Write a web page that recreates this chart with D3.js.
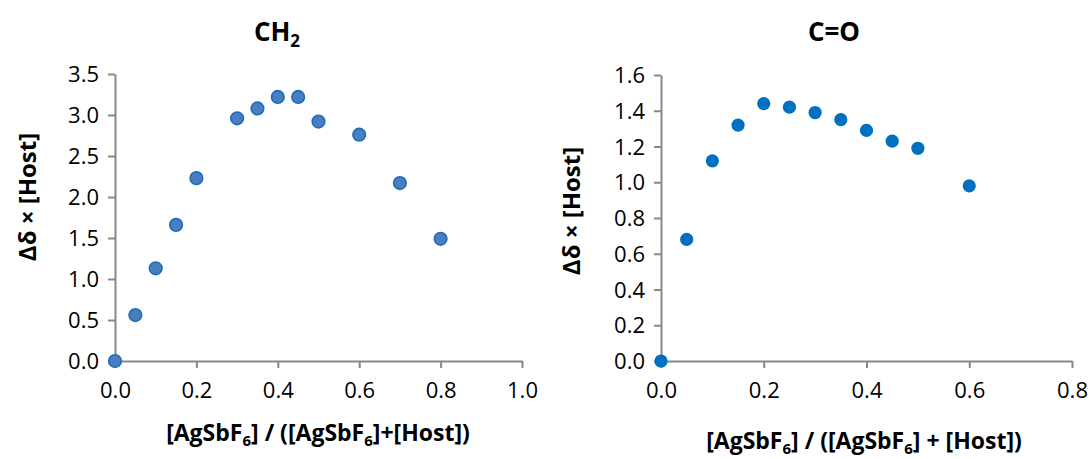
<!DOCTYPE html>
<html>
<head>
<meta charset="utf-8">
<script src="https://cdn.jsdelivr.net/npm/d3@7"></script>
<style>
  html, body { margin: 0; padding: 0; background: #fff; }
  svg { display: block; }
  text { font-family: "Open Sans", Lato, sans-serif; fill: #000; }
</style>
</head>
<body>
<svg id="chart" width="1091" height="459"></svg>
<script>
// Mole fraction of AgSbF6 and the shift product for the CH2 signal
const ch2Fraction = [0, 0.05, 0.1, 0.15, 0.2, 0.3, 0.35, 0.4, 0.45, 0.5, 0.6, 0.7, 0.8];
const ch2Shift    = [0, 0.56, 1.13, 1.66, 2.23, 2.96, 3.08, 3.22, 3.22, 2.92, 2.76, 2.17, 1.49];

// Same for the C=O signal
const coFraction = [0, 0.05, 0.1, 0.15, 0.2, 0.25, 0.3, 0.35, 0.4, 0.45, 0.5, 0.6];
const coShift    = [0, 0.68, 1.12, 1.32, 1.44, 1.42, 1.39, 1.35, 1.29, 1.23, 1.19, 0.98];

const ch2XTicks = [0, 0.2, 0.4, 0.6, 0.8, 1.0];
const ch2YTicks = [0, 0.5, 1.0, 1.5, 2.0, 2.5, 3.0, 3.5];
const coXTicks  = [0, 0.2, 0.4, 0.6, 0.8];
const coYTicks  = [0, 0.2, 0.4, 0.6, 0.8, 1.0, 1.2, 1.4, 1.6];

const svg = d3.select("#chart");
const axisColor = "#888888";

function panel(opt) {
  const x = d3.scaleLinear().domain(opt.xDomain).range([opt.left, opt.right]);
  const y = d3.scaleLinear().domain(opt.yDomain).range([opt.bottom, opt.top]);
  const g = svg.append("g");

  const xAxis = g.append("g")
    .attr("transform", `translate(0,${opt.bottom})`)
    .call(d3.axisBottom(x).tickValues(opt.xTicks).tickSize(7).tickSizeOuter(0)
      .tickFormat(d3.format(".1f")));
  const yAxis = g.append("g")
    .attr("transform", `translate(${opt.left},0)`)
    .call(d3.axisLeft(y).tickValues(opt.yTicks).tickSize(7).tickSizeOuter(0)
      .tickFormat(d3.format(".1f")));

  [xAxis, yAxis].forEach(a => {
    a.select(".domain").attr("stroke", axisColor).attr("stroke-width", 2);
    a.selectAll(".tick line").attr("stroke", axisColor).attr("stroke-width", 2);
    a.selectAll(".tick text").attr("font-size", 22).attr("fill", "#000")
      .style("font-family", '"Open Sans", Lato, sans-serif');
  });
  xAxis.selectAll(".tick text").attr("dy", null).attr("y", 37);
  yAxis.selectAll(".tick text").attr("x", -16).attr("dy", "0.35em");

  // markers
  g.append("g").selectAll("circle")
    .data(opt.xs.map((v, i) => [v, opt.ys[i]]))
    .join("circle")
    .attr("cx", d => x(d[0]))
    .attr("cy", d => y(d[1]))
    .attr("r", opt.r)
    .attr("fill", opt.fill)
    .attr("stroke", opt.stroke)
    .attr("stroke-width", opt.strokeWidth);

  // title with subscript support
  const t = g.append("text")
    .attr("x", opt.titleX).attr("y", opt.titleY)
    .attr("text-anchor", "middle")
    .attr("font-size", 26).attr("font-weight", "bold");
  opt.title.forEach(p => {
    t.append("tspan").text(p.t)
      .attr("font-size", p.sub ? 17 : null)
      .attr("dy", p.sub ? 6 : (p.back ? -6 : null));
  });

  // x axis title
  const xl = g.append("text")
    .attr("x", opt.xLabelX).attr("y", opt.xLabelY)
    .attr("text-anchor", "middle")
    .attr("font-size", 23).attr("font-weight", "bold");
  opt.xLabel.forEach(p => {
    xl.append("tspan").text(p.t)
      .attr("font-size", p.sub ? 15 : null)
      .attr("dy", p.sub ? 5 : (p.back ? -5 : null));
  });

  // y axis title
  g.append("text")
    .attr("transform", `translate(${opt.yLabelX},${opt.yLabelY}) rotate(-90)`)
    .attr("text-anchor", "middle")
    .attr("font-size", 24).attr("font-weight", "bold")
    .text("Δδ × [Host]");
}

panel({
  xs: ch2Fraction, ys: ch2Shift,
  xDomain: [0, 1], yDomain: [0, 3.5],
  xTicks: ch2XTicks, yTicks: ch2YTicks,
  left: 115, right: 522, top: 74, bottom: 361,
  r: 6.3, fill: "#4A7EBF", stroke: "#1C6DBE", strokeWidth: 1.6,
  title: [{t: "CH"}, {t: "2", sub: true}],
  titleX: 277, titleY: 41,
  xLabel: [{t: "[AgSbF"}, {t: "6", sub: true}, {t: "] / ([AgSbF", back: true}, {t: "6", sub: true}, {t: "]+[Host])", back: true}],
  xLabelX: 318, xLabelY: 441,
  yLabelX: 36, yLabelY: 197
});

panel({
  xs: coFraction, ys: coShift,
  xDomain: [0, 0.8], yDomain: [0, 1.6],
  xTicks: coXTicks, yTicks: coYTicks,
  left: 661, right: 1072, top: 75, bottom: 361,
  r: 6.6, fill: "#0070C0", stroke: "#0070C0", strokeWidth: 0,
  title: [{t: "C=O"}],
  titleX: 834, titleY: 41,
  xLabel: [{t: "[AgSbF"}, {t: "6", sub: true}, {t: "] / ([AgSbF", back: true}, {t: "6", sub: true}, {t: "] + [Host])", back: true}],
  xLabelX: 864, xLabelY: 449,
  yLabelX: 580, yLabelY: 211
});
</script>
</body>
</html>
